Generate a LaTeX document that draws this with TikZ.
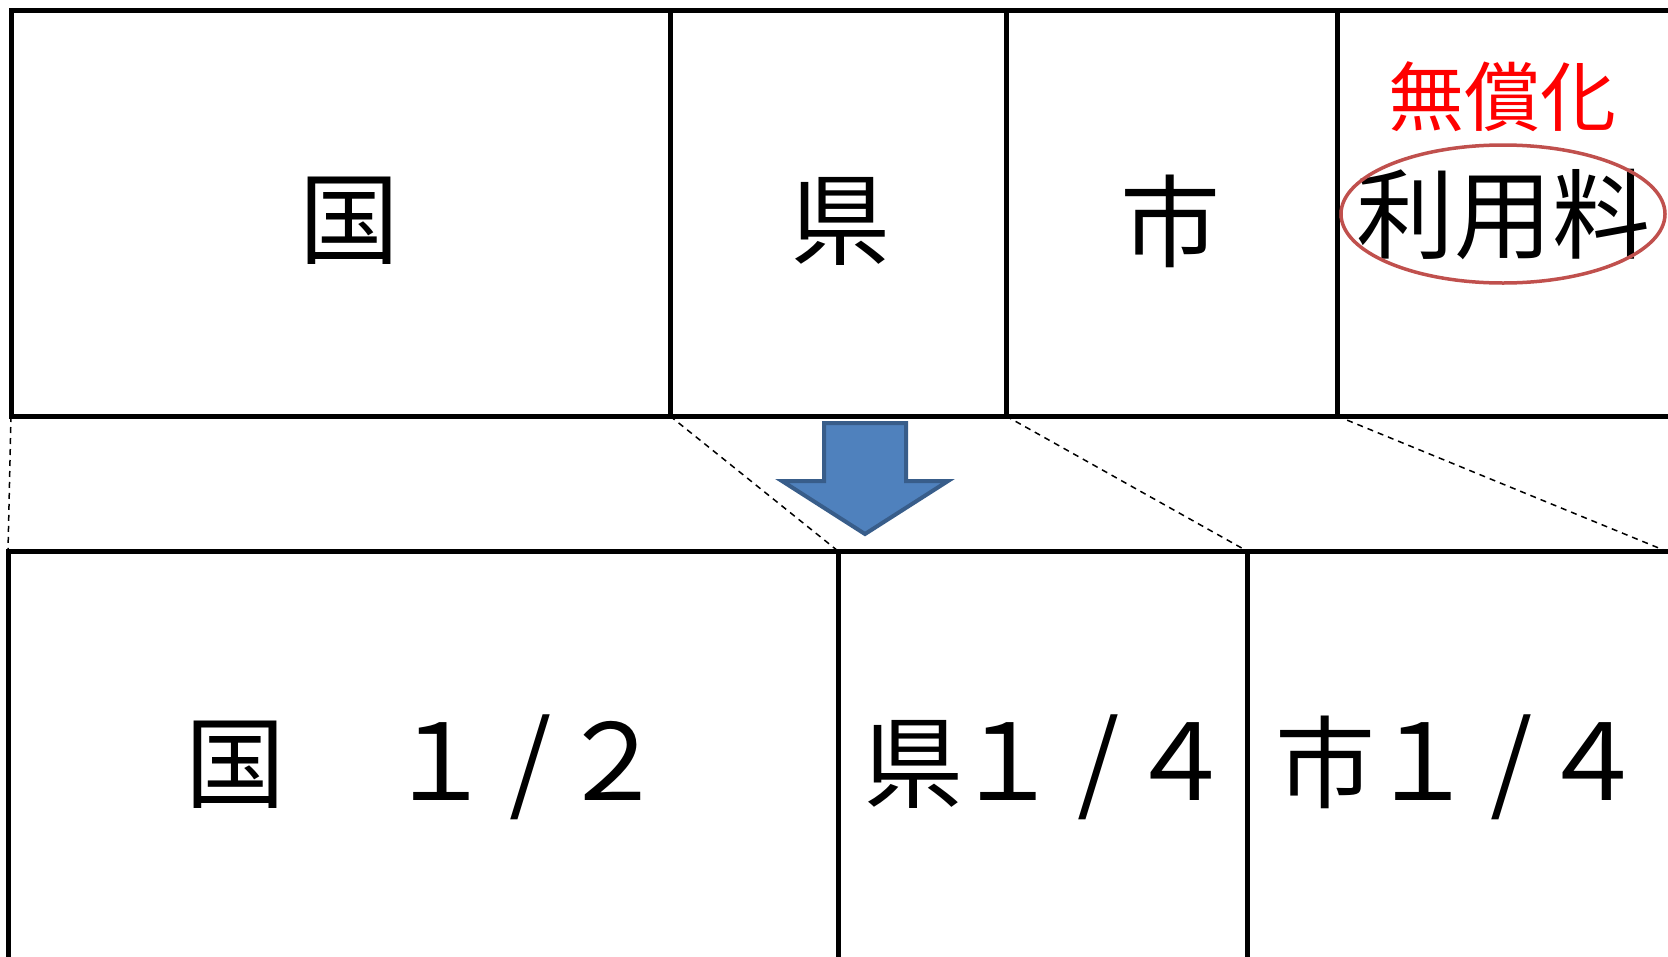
\documentclass[tikz,border=0pt]{standalone}
\usepackage{fontspec}
\newfontfamily\jp{Noto Sans CJK JP}
\definecolor{arrowfill}{HTML}{4F81BD}
\definecolor{arrowline}{HTML}{385D8A}
\definecolor{ellline}{HTML}{C0504D}
\newcommand\cb[2]{\makebox[#1pt]{#2}}
\begin{document}
\begin{tikzpicture}[x=1pt,y=-1pt,
  cell/.style={line width=5pt,line join=miter},
  guide/.style={line width=1.5pt,dash pattern=on 6pt off 5pt},
  big/.style={font=\jp\fontsize{100}{100}\selectfont,inner sep=0pt},
  share/.style={font=\jp\fontsize{100}{100}\selectfont,inner sep=0pt,anchor=west},
  red label/.style={font=\jp\fontsize{76}{76}\selectfont,inner sep=0pt,text=red},
  fee/.style={font=\jp\fontsize{98}{98}\selectfont,inner sep=0pt}]
\clip (0,0) rectangle (1668,956);
\fill[white] (0,0) rectangle (1668,956);
% top row corners
\coordinate (t0) at (11,10);
\coordinate (t1) at (670,10);
\coordinate (t2) at (1006,10);
\coordinate (t3) at (1337,10);
\coordinate (t4) at (1672,10);
\coordinate (u0) at (11,416);
\coordinate (u1) at (670,416);
\coordinate (u2) at (1006,416);
\coordinate (u3) at (1337,416);
\coordinate (u4) at (1672,416);
% bottom row corners
\coordinate (b0) at (8,551);
\coordinate (b1) at (838,551);
\coordinate (b2) at (1247,551);
\coordinate (b3) at (1672,551);
\coordinate (c0) at (8,962);
\coordinate (c1) at (838,962);
\coordinate (c2) at (1247,962);
% top row
\draw[cell] (t4) -- (t0) -- (u0) -- (u4);
\draw[cell] (t1) -- (u1);
\draw[cell] (t2) -- (u2);
\draw[cell] (t3) -- (u3);
% bottom row
\draw[cell] (b3) -- (b0) -- (c0);
\draw[cell] (b1) -- (c1);
\draw[cell] (b2) -- (c2);
% guide lines
\coordinate (g3) at (1666,551);
\draw[guide] (u0) -- (b0);
\draw[guide] (u1) -- (b1);
\draw[guide] (u2) -- (b2);
\draw[guide] (u3) -- (g3);
% arrow
\draw[line width=4pt,draw=arrowline,fill=arrowfill,line join=miter]
  (824,423) -- (906,423) -- (906,481) -- (948,481) -- (865,534) -- (782,481) -- (824,481) -- cycle;
% texts
\node[big] (kuni) at (349,221) {国};
\node[big] (ken) at (840,221) {県};
\node[big] (shi) at (1170,221) {市};
\node[red label] (mushoka) at (1502,97) {無償化};
\node[fee] (riyoryo) at (1503,214) {利用料};
\draw[ellline,line width=3.5pt] (riyoryo.center) ellipse [x radius=162pt,y radius=69pt];
\node[share] (kuni2) at (191,767)
  {\cb{88}{国}\cb{116}{　}\cb{90}{\fontsize{106}{106}\selectfont １}\cb{90}{\fontsize{108}{108}\selectfont /}\cb{74}{\fontsize{106}{106}\selectfont ２}};
\node[share] (ken2) at (867,767)
  {\cb{93}{県}\cb{95}{\fontsize{106}{106}\selectfont １}\cb{86}{\fontsize{108}{108}\selectfont /}\cb{78}{\fontsize{106}{106}\selectfont ４}};
\node[share] (shi2) at (1277,767)
  {\cb{96}{市}\cb{98}{\fontsize{106}{106}\selectfont １}\cb{80}{\fontsize{108}{108}\selectfont /}\cb{82}{\fontsize{106}{106}\selectfont ４}};
\end{tikzpicture}
\end{document}
